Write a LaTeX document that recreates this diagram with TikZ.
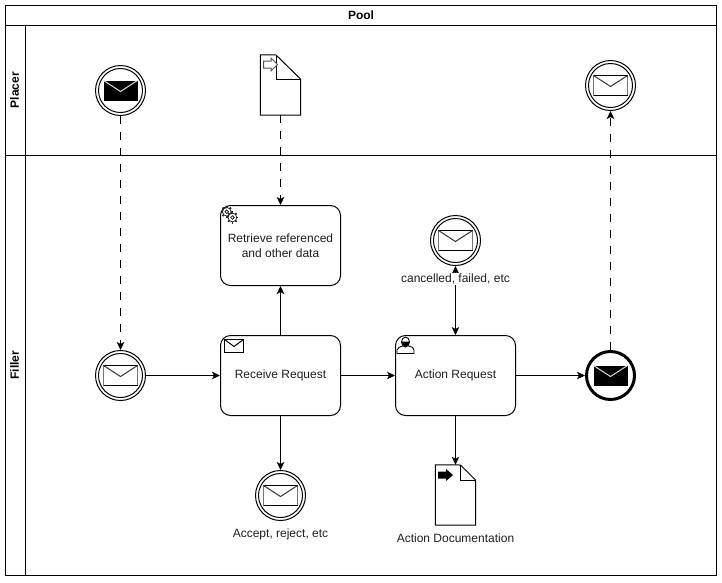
\documentclass[tikz,border=0pt]{standalone}
\usepackage{fontspec}
\setmainfont{Liberation Sans}
\usetikzlibrary{arrows.meta}
\tikzset{
  x=1pt,y=-1pt,
  every node/.style={font=\fontsize{12}{14.5}\selectfont,text=black!88},
  ln/.style={draw=black,line width=1pt},
  evt/.style={circle,draw=black,line width=1pt,minimum size=50pt,inner sep=0pt,fill=white},
  evtthick/.style={evt,line width=3pt,minimum size=48pt},
  ring/.style={draw=black,line width=1pt,fill=none},
  task/.style={draw=black,line width=1pt,rounded corners=10pt,minimum width=120pt,minimum height=80pt,align=center,inner sep=0pt,fill=white},
  docbox/.style={minimum width=40pt,minimum height=60pt,inner sep=0pt},
  flow/.style={draw=black,line width=1pt,-{Stealth[length=8pt,width=7.5pt,inset=2pt]}},
  msg/.style={flow,dash pattern=on 8pt off 8pt},
  both/.style={draw=black,line width=1pt,{Stealth[length=8pt,width=7.5pt,inset=2pt]}-{Stealth[length=8pt,width=7.5pt,inset=2pt]}},
  lab/.style={fill=white,inner sep=1pt},
  title/.style={font=\fontsize{12}{14}\bfseries\selectfont,text=black},
  pics/envlight/.style={code={
    \draw[draw=black!55,line width=1.6pt,fill=white] (-17,-10) rectangle (17,10);
    \draw[draw=black,line width=.9pt] (-17,-10) -- (17,-10) (-17,10) -- (17,10);
    \draw[draw=black!80,line width=1pt] (-17,-10) -- (0,1) -- (17,-10);
  }},
  pics/envdark/.style={code={
    \fill[black] (-17,-10) rectangle (17,10);
    \draw[draw=white!85!black,line width=1pt] (-17,-10) -- (0,1) -- (17,-10);
  }},
  pics/gearicon/.style={code={
    \foreach \a in {0,45,...,315}{\draw[line width=1.8pt,black!85] (\a:#1*.7) -- (\a:#1);}
    \draw[black!85,line width=.8pt,fill=white] (0,0) circle[radius=#1*.72];
    \draw[black!85,line width=.8pt,fill=white] (0,0) circle[radius=#1*.3];
  }},
}
\begin{document}
\begin{tikzpicture}
\useasboundingbox (0,0) rectangle (722,582);
\fill[white] (0,0) rectangle (722,582);
% pool and lanes
\draw[ln] (5.5,5.5) rectangle (716.5,575.5);
\draw[ln] (5.5,25.5) -- (716.5,25.5);
\draw[ln] (25.5,25.5) -- (25.5,575.5);
\draw[ln] (5.5,155.5) -- (716.5,155.5);
\node[title] (pool) at (361,15) {Pool};
\node[title,rotate=90] (placer) at (14.5,90) {Placer};
\node[title,rotate=90] (filler) at (14.5,365) {Filler};
% events
\node[evt] (start1) at (120.5,90.5) {};
\node[evt] (start2) at (120.5,375.5) {};
\node[evt] (end1) at (610.5,85.5) {};
\node[evt] (rej) at (280.5,495.5) {};
\node[evt] (canc) at (455.5,240.5) {};
\node[evtthick] (end2) at (610.5,375.5) {};
\foreach \n in {start1,start2,end1,rej,canc}{\draw[ring] (\n.center) circle[radius=22];}
\pic at (start1) {envdark};
\pic at (start2) {envlight};
\pic at (end1) {envlight};
\pic at (rej) {envlight};
\pic at (canc) {envlight};
\pic at (end2) {envdark};
% tasks
\node[task] (ret) at (280.5,245.5) {Retrieve referenced\\and other data};
\node[task] (rec) at (280.5,375.5) {\raisebox{-1pt}{Receive Request}};
\node[task] (act) at (455.5,375.5) {\raisebox{-1pt}{Action Request}};
% documents
\node[docbox] (doc1) at (280.5,85) {};
\node[docbox] (doc2) at (455.5,495) {};
\draw[ln,fill=white,line join=miter] (doc1.north west) -- (276,55) -- (300.5,79) -- (doc1.south east) -- (doc1.south west) -- cycle;
\draw[ln] (276,55) -- (276,79) -- (300.5,79);
\draw[ln,fill=white] (doc2.north west) -- (460.5,465) -- (475.5,480) -- (doc2.south east) -- (doc2.south west) -- cycle;
\draw[ln] (460.5,465) -- (460.5,480) -- (475.5,480);
% document markers
\draw[draw=black!65,line width=1pt,fill=white] (263.5,61) -- (271,61) -- (271,58) -- (277.5,64.5) -- (271,71) -- (271,68) -- (263.5,68) -- cycle;
\fill[black] (438,471.5) -- (446,471.5) -- (446,469) -- (453,475) -- (446,481) -- (446,478.5) -- (438,478.5) -- cycle;
% connectors
\draw[msg] (start1) -- (start2);
\draw[msg] (doc1) -- (ret);
\draw[msg] (end2) -- (end1);
\draw[flow] (start2) -- (rec);
\draw[flow] (rec) -- (act);
\draw[flow] (rec) -- (ret);
\draw[flow] (rec) -- (rej);
\draw[flow] (act) -- (end2);
\draw[flow] (act) -- (doc2);
\draw[both] (canc) -- (act);
% labels
\node[lab] (l1) at (455.5,279) {cancelled, failed, etc};
\node[lab] (l2) at (280.5,534) {Accept, reject, etc};
\node[lab] (l3) at (455.5,538.5) {Action Documentation};
% task markers
\pic at (226.8,211.8) {gearicon=6};
\pic at (232.4,217.5) {gearicon=6};
\draw[black,line width=1pt,fill=white] (224.5,339.5) rectangle (243.5,352.5);
\draw[black,line width=1pt] (224.5,339.5) -- (234,346.5) -- (243.5,339.5);
\draw[black,line width=.9pt,fill=white] (397,353.5) -- (397,350) .. controls (397.5,347.5) and (400,347) .. (402.5,346) -- (409,346) .. controls (411.5,347) and (414,347.5) .. (414,350) -- (414,353.5) -- cycle;
\draw[black,line width=.9pt,fill=white] (405.5,342) ellipse[x radius=4,y radius=5];
\fill[black] (401.5,341.5) arc[start angle=180,end angle=360,x radius=4,y radius=-5] -- cycle;
\end{tikzpicture}
\end{document}
